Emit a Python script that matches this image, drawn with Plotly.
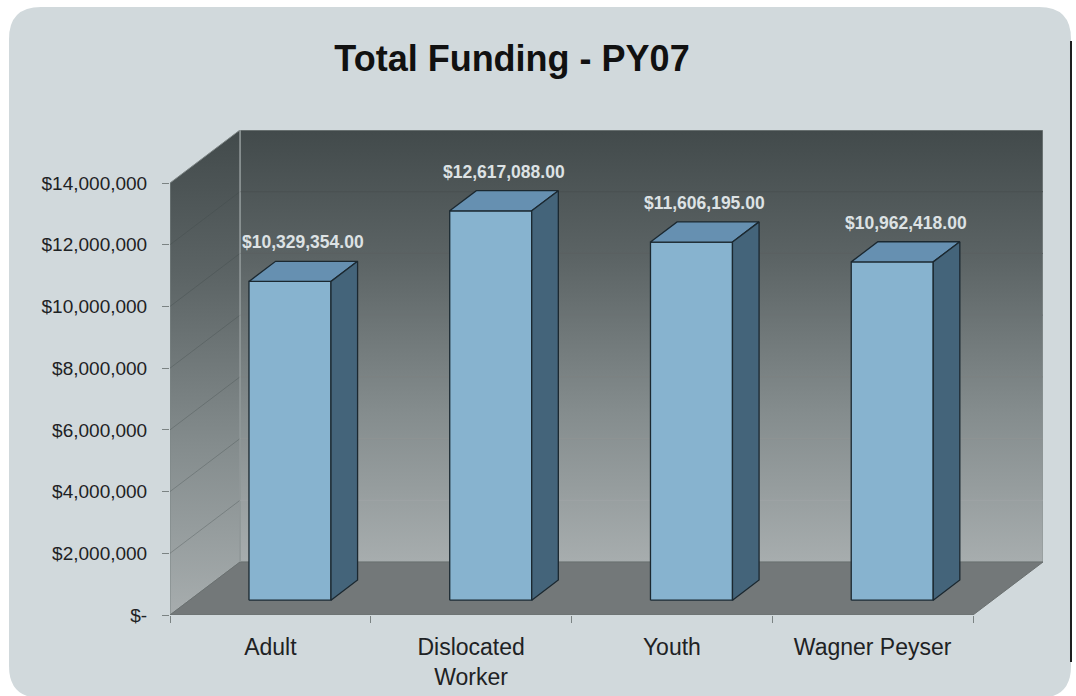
import plotly.graph_objects as go

# ---------------- data ----------------
categories = ["Adult", "Dislocated<br>Worker", "Youth", "Wagner Peyser"]
funding = [10329354.00, 12617088.00, 11606195.00, 10962418.00]
value_labels = ["$10,329,354.00", "$12,617,088.00", "$11,606,195.00", "$10,962,418.00"]
y_tickvals = [0, 2000000, 4000000, 6000000, 8000000, 10000000, 12000000, 14000000]
y_ticktext = ["$-", "$2,000,000", "$4,000,000", "$6,000,000", "$8,000,000",
              "$10,000,000", "$12,000,000", "$14,000,000"]
title_text = "Total Funding - PY07"

# ---------------- layout geometry ----------------
W, H = 1076, 696
ML, MR, MT, MB = 170, 33, 130, 81
YMAX = 14000000
n = len(categories)
DEPTH_PX = (70, 53)          # depth of the pseudo-3D box in pixels
plot_w = W - ML - MR
plot_h = H - MT - MB
cat_px = (plot_w - DEPTH_PX[0]) / n
DX = DEPTH_PX[0] / cat_px
val_px = (plot_h - DEPTH_PX[1]) / YMAX
DY = DEPTH_PX[1] / val_px
XR = [-0.5, n - 0.5 + DX]
YR = [0, YMAX + DY]

BAR_W = 82 / cat_px
F_FRONT = 0.28   # bar front face position (fraction of depth)
F_DEPTH = 0.38   # bar depth (fraction of depth)
fdx, fdy = F_FRONT * DX, F_FRONT * DY
bdx, bdy = F_DEPTH * DX, F_DEPTH * DY

FONT = "Liberation Sans, Arial, sans-serif"

def px2paper(px, py):
    return (px - ML) / plot_w, (H - MB - py) / plot_h

fig = go.Figure()

def poly(xs, ys, color=None, line_color="rgba(0,0,0,0)", lw=1, gradient=None):
    xs = list(xs) + [xs[0]]
    ys = list(ys) + [ys[0]]
    kw = dict(x=xs, y=ys, mode="lines", fill="toself",
              line=dict(color=line_color, width=lw),
              hoverinfo="skip", showlegend=False)
    if gradient is not None:
        kw["fillgradient"] = gradient
    else:
        kw["fillcolor"] = color
    fig.add_trace(go.Scatter(**kw))

def seg(xs, ys, color, lw=1):
    fig.add_trace(go.Scatter(x=xs, y=ys, mode="lines", line=dict(color=color, width=lw),
                             hoverinfo="skip", showlegend=False))

xl, xr = -0.5, n - 0.5
wall_scale = [[0, "#a7adae"], [0.35, "#848c8d"], [0.7, "#5c6465"], [1, "#424a4b"]]
# back wall
poly([xl + DX, xr + DX, xr + DX, xl + DX], [DY, DY, YMAX + DY, YMAX + DY],
     gradient=dict(type="vertical", start=DY, stop=YMAX + DY, colorscale=wall_scale),
     line_color="#8c9494", lw=1)
# side wall
poly([xl, xl, xl + DX, xl + DX], [0, YMAX, YMAX + DY, DY],
     gradient=dict(type="vertical", start=0, stop=YMAX + DY, colorscale=wall_scale),
     line_color="#7d8585", lw=1)
# floor
poly([xl, xr, xr + DX, xl + DX], [0, 0, DY, DY], color="#737879",
     line_color="#6a7070", lw=1)

def mix(c1, c2, t):
    a = [int(c1[i:i + 2], 16) for i in (1, 3, 5)]
    b = [int(c2[i:i + 2], 16) for i in (1, 3, 5)]
    return "#" + "".join(f"{round(a[k] + (b[k] - a[k]) * t):02x}" for k in range(3))

# grid lines on back wall and side wall
for v in y_tickvals[1:-1]:
    t = v / YMAX
    seg([xl + DX, xr + DX], [v + DY, v + DY], mix("#b0b5b6", "#384040", t), 1)
    seg([xl, xl + DX], [v, v + DY], "rgba(60,68,68,0.3)", 1)
# back-wall left edge
seg([xl + DX, xl + DX], [DY, YMAX + DY], "#9aa1a2", 1)

# bars
OUT = "#1b2830"
for i, val in enumerate(funding):
    x0 = i - BAR_W / 2 + fdx
    x1 = x0 + BAR_W
    y0 = fdy
    y1 = fdy + val
    poly([x0, x1, x1, x0], [y0, y0, y1, y1], color="#87b3cf", line_color=OUT, lw=1.3)
    poly([x0, x1, x1 + bdx, x0 + bdx], [y1, y1, y1 + bdy, y1 + bdy], color="#6690b1",
         line_color=OUT, lw=1.3)
    poly([x1, x1 + bdx, x1 + bdx, x1], [y0, y0 + bdy, y1 + bdy, y1], color="#44647a",
         line_color=OUT, lw=1.3)
    fig.add_annotation(x=i + fdx + bdx / 2, y=y1 + bdy / 2, text=f"<b>{value_labels[i]}</b>",
                       showarrow=False, yanchor="bottom", yshift=17,
                       font=dict(family=FONT, size=17.5, color="#dde2e4"))

# background rounded panel
bx0, by0, bx1, by1, r = 9, 7, 1071, 698, 32
def P(px, py):
    a, b = px2paper(px, py)
    return f"{a:.5f},{b:.5f}"
path = (f"M {P(bx0 + r, by0)} L {P(bx1 - r, by0)} Q {P(bx1, by0)} {P(bx1, by0 + r)} "
        f"L {P(bx1, by1 - r)} Q {P(bx1, by1)} {P(bx1 - r, by1)} "
        f"L {P(bx0 + r, by1)} Q {P(bx0, by1)} {P(bx0, by1 - r)} "
        f"L {P(bx0, by0 + r)} Q {P(bx0, by0)} {P(bx0 + r, by0)} Z")
shapes = [
    dict(type="path", xref="paper", yref="paper", path=path, fillcolor="#d1d9dc",
         line=dict(width=0), layer="below"),
    dict(type="path", xref="paper", yref="paper",
         path=f"M {P(bx1, by0 + 34)} L {P(bx1, by1 - 36)}",
         line=dict(color="#1e1e1e", width=2), layer="below"),
]

fig.update_layout(
    width=W, height=H, autosize=False,
    margin=dict(l=ML, r=MR, t=MT, b=MB, pad=0, autoexpand=False),
    paper_bgcolor="white", plot_bgcolor="rgba(0,0,0,0)",
    shapes=shapes,
    showlegend=False,
    title=dict(text=f"<b>{title_text}</b>", x=512 / W, xanchor="center",
               y=1 - 58 / H, yanchor="middle", xref="container", yref="container",
               font=dict(family=FONT, size=36, color="#111111")),
    xaxis=dict(range=XR, tickmode="array", tickvals=list(range(n)), ticktext=categories,
               showgrid=False, zeroline=False, showline=False, ticks="outside", ticklen=0,
               tickfont=dict(family=FONT, size=23, color="#1e2224"),
               ticklabelstandoff=11, automargin=False,
               minor=dict(tickmode="array", tickvals=[k - 0.5 for k in range(n + 1)],
                          ticks="outside", ticklen=7, tickcolor="#7b8383", tickwidth=1,
                          showgrid=False),
               fixedrange=True),
    yaxis=dict(range=YR, tickmode="array", tickvals=y_tickvals, ticktext=y_ticktext,
               showgrid=False, zeroline=False, showline=False, ticks="outside", ticklen=7,
               tickcolor="#7b8383", tickwidth=1, automargin=False,
               tickfont=dict(family=FONT, size=19, color="#1e2224"),
               ticklabelstandoff=11, fixedrange=True),
)

fig.write_html("out.html",
               config={"responsive": False, "displayModeBar": False, "staticPlot": True},
               post_script="document.body.style.margin='0';document.body.style.overflow='hidden';")
